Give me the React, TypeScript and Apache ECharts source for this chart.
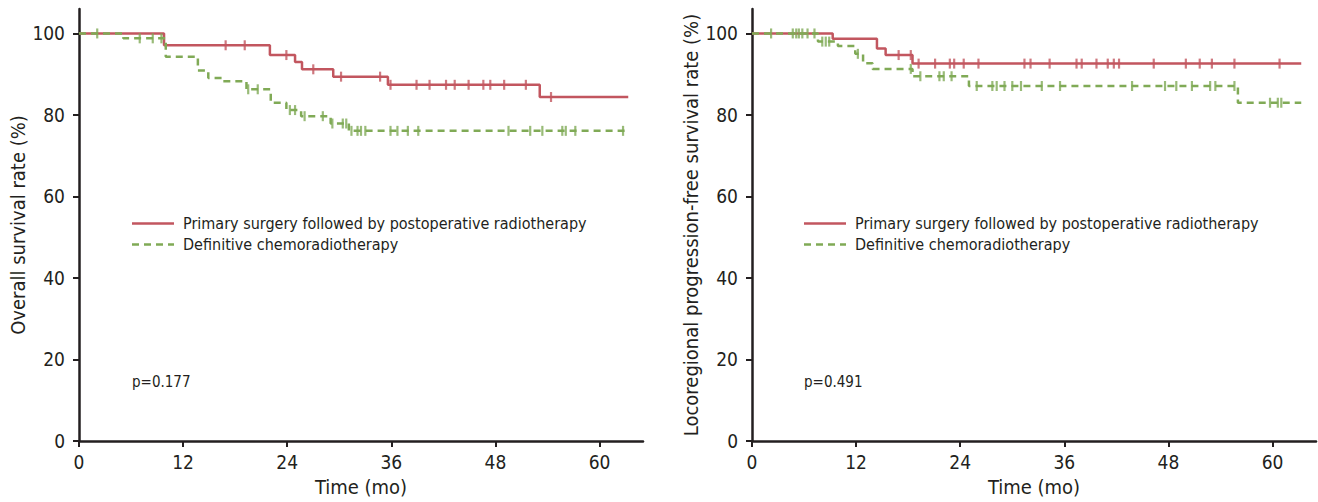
import React, { useEffect, useRef } from "react";
import * as echarts from "echarts";

const FONT = "'Liberation Sans Narrow', 'DejaVu Sans Condensed', 'Roboto Condensed', 'Liberation Sans', sans-serif";
const RED = "#c2565f";
const GREEN = "#80aa56";
const INK = "#231f20";

const xTicks = [0, 12, 24, 36, 48, 60];
const yTicks = [0, 20, 40, 60, 80, 100];

const seriesNames = [
  "Primary surgery followed by postoperative radiotherapy",
  "Definitive chemoradiotherapy",
];

// Overall survival — surgery (time in months, survival %)
const osSurgery: [number, number][] = [
  [0, 100], [9.8, 97.1], [22.0, 94.7], [24.9, 93.0], [25.7, 91.2], [29.3, 89.4],
  [35.6, 87.4], [53.1, 84.4], [63.3, 84.4],
];
const osSurgeryCensor = [16.9, 19.1, 23.9, 27.0, 30.2, 34.7, 35.9, 38.9, 40.4, 42.3, 43.3, 44.9, 46.6, 47.4, 49.0, 51.5, 54.4];

// Overall survival — chemoradiotherapy
const osChemo: [number, number][] = [
  [0, 100], [5.1, 98.8], [10.0, 94.3], [13.7, 90.9], [14.9, 89.1], [16.6, 88.3],
  [19.3, 86.3], [22.1, 83.0], [23.9, 81.2], [25.6, 79.7], [29.0, 77.9], [31.1, 76.1], [63.2, 76.1],
];
const osChemoCensor = [2.1, 7.0, 8.5, 9.5, 19.5, 20.6, 24.3, 24.9, 26.0, 28.1, 29.2, 30.4, 30.8, 31.4, 32.1, 32.5, 33.0, 35.9, 36.7, 37.9, 39.1, 49.5, 52.0, 53.4, 55.7, 56.1, 57.2, 62.7];

// Locoregional progression-free survival — surgery
const lrSurgery: [number, number][] = [
  [0, 100], [9.3, 98.7], [14.4, 96.3], [15.4, 94.7], [18.5, 92.6], [63.3, 92.6],
];
const lrSurgeryCensor = [16.9, 18.3, 19.2, 21.1, 22.8, 23.3, 24.4, 26.1, 31.4, 32.1, 34.3, 37.4, 38.0, 39.7, 41.0, 41.7, 42.3, 46.3, 50.0, 51.6, 53.0, 55.6, 60.8];

// Locoregional progression-free survival — chemoradiotherapy
const lrChemo: [number, number][] = [
  [0, 100], [7.6, 98.0], [9.9, 96.9], [11.9, 95.0], [12.8, 92.7], [13.9, 91.3],
  [18.5, 89.5], [25.0, 87.1], [56.0, 83.0], [63.3, 83.0],
];
const lrChemoCensor = [2.2, 4.7, 5.1, 5.4, 5.8, 6.4, 7.2, 8.1, 8.5, 8.9, 12.2, 18.3, 19.4, 21.6, 22.1, 23.0, 25.9, 27.7, 28.2, 29.1, 30.0, 31.0, 33.4, 35.5, 43.8, 47.6, 48.9, 50.7, 52.8, 53.4, 55.6, 59.7, 60.6, 61.0];

const pValues = ["p=0.177", "p=0.491"];
const yNames = ["Overall survival rate (%)", "Locoregional progression-free survival rate (%)"];
const xName = "Time (mo)";

function valueAt(curve: [number, number][], t: number): number {
  let v = curve[0][1];
  for (const [tt, s] of curve) {
    if (tt <= t) v = s;
  }
  return v;
}

function censorPoints(curve: [number, number][], times: number[]) {
  return times.map((t) => [t, valueAt(curve, t)]);
}

export default function App() {
  const ref = useRef<HTMLDivElement>(null);
  useEffect(() => {
    if (!ref.current) return;
    const chart = echarts.init(ref.current, undefined, { renderer: "svg" });
    const grids = [
      { left: 79, right: 675, top: 9, bottom: 60 },
      { left: 752, right: 2, top: 9, bottom: 60 },
    ];
    const mkX = (i: number) => ({
      type: "value",
      gridIndex: i,
      min: 0,
      max: 65,
      name: xName,
      nameLocation: "middle",
      nameGap: 36,
      nameTextStyle: { fontFamily: FONT, fontSize: 20, color: INK },
      splitLine: { show: false },
      axisLine: { show: true, onZero: false, lineStyle: { color: INK, width: 2.5 } },
      axisTick: { show: true, length: 6, customValues: xTicks, lineStyle: { color: INK, width: 2 } },
      axisLabel: { customValues: xTicks, fontFamily: FONT, fontSize: 19, color: INK, margin: 11 },
    });
    const mkY = (i: number) => ({
      type: "value",
      gridIndex: i,
      min: 0,
      max: 106,
      name: yNames[i],
      nameLocation: "middle",
      nameGap: 45,
      nameTextStyle: { fontFamily: FONT, fontSize: 20, color: INK },
      splitLine: { show: false },
      axisLine: { show: true, onZero: false, lineStyle: { color: INK, width: 2.5 } },
      axisTick: { show: true, length: 6, customValues: yTicks, lineStyle: { color: INK, width: 2 } },
      axisLabel: { customValues: yTicks, fontFamily: FONT, fontSize: 19, color: INK, margin: 14 },
    });
    const lineSeries = (idx: number, data: [number, number][], color: string, dashed: boolean) => ({
      type: "line",
      xAxisIndex: idx,
      yAxisIndex: idx,
      step: "end",
      showSymbol: false,
      symbol: "none",
      data,
      lineStyle: { color, width: 2.5, type: dashed ? [7, 5] : "solid" },
      z: dashed ? 3 : 2,
    });
    const censorSeries = (idx: number, data: number[][], color: string) => ({
      type: "scatter",
      xAxisIndex: idx,
      yAxisIndex: idx,
      symbol: "rect",
      symbolSize: [2.2, 10],
      data,
      itemStyle: { color },
      z: 4,
    });
    const legendGraphic = (x0: number) => [
      { type: "line", shape: { x1: x0, y1: 223.5, x2: x0 + 42, y2: 223.5 }, style: { stroke: RED, lineWidth: 2.5 } },
      { type: "line", shape: { x1: x0, y1: 244.5, x2: x0 + 42, y2: 244.5 }, style: { stroke: GREEN, lineWidth: 2.5, lineDash: [7, 5] } },
      { type: "text", x: x0 + 51, y: 223.5, style: { text: seriesNames[0], fontFamily: FONT, fontSize: 16, fill: INK, verticalAlign: "middle" } },
      { type: "text", x: x0 + 51, y: 244.5, style: { text: seriesNames[1], fontFamily: FONT, fontSize: 16, fill: INK, verticalAlign: "middle" } },
    ];
    chart.setOption({
      animation: false,
      backgroundColor: "#ffffff",
      grid: grids,
      xAxis: [mkX(0), mkX(1)],
      yAxis: [mkY(0), mkY(1)],
      series: [
        lineSeries(0, osSurgery, RED, false),
        lineSeries(0, osChemo, GREEN, true),
        censorSeries(0, censorPoints(osSurgery, osSurgeryCensor), RED),
        censorSeries(0, censorPoints(osChemo, osChemoCensor), GREEN),
        lineSeries(1, lrSurgery, RED, false),
        lineSeries(1, lrChemo, GREEN, true),
        censorSeries(1, censorPoints(lrSurgery, lrSurgeryCensor), RED),
        censorSeries(1, censorPoints(lrChemo, lrChemoCensor), GREEN),
      ],
      graphic: [
        ...legendGraphic(132),
        ...legendGraphic(804),
        { type: "text", x: 132, y: 382, style: { text: pValues[0], fontFamily: FONT, fontSize: 15, fill: INK, verticalAlign: "middle" } },
        { type: "text", x: 804, y: 382, style: { text: pValues[1], fontFamily: FONT, fontSize: 15, fill: INK, verticalAlign: "middle" } },
      ],
    });
    return () => chart.dispose();
  }, []);
  return (
    <div
      ref={ref}
      style={{ position: "absolute", left: 0, top: 0, width: 1318, height: 502, background: "#fff" }}
    />
  );
}
